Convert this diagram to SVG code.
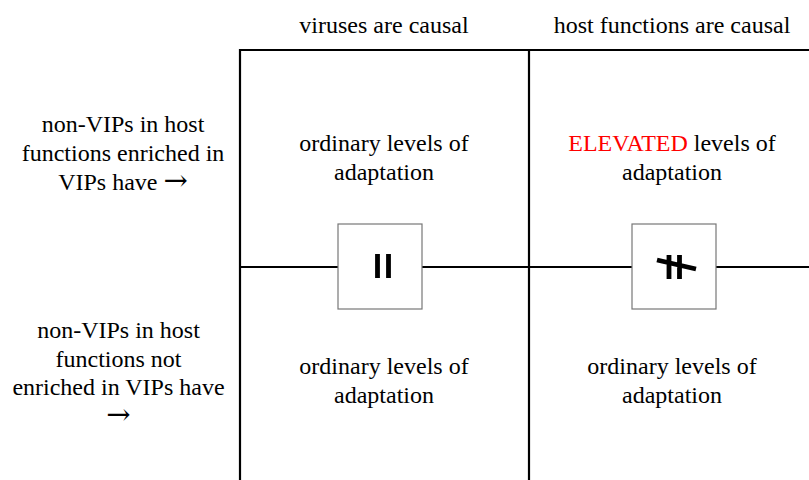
<svg xmlns="http://www.w3.org/2000/svg" width="809" height="480" viewBox="0 0 809 480">
<style>
text{font-family:"Liberation Serif","Times New Roman",serif;font-size:24px;fill:#000;text-anchor:middle}
.arr{font-family:"DejaVu Serif",serif;font-size:29px}
.grid{stroke:#000;stroke-width:2.2;fill:none}
.box{fill:#fff;stroke:#777;stroke-width:1.2}
.sym{stroke:#000;stroke-width:4.8;fill:none}
.red{fill:#ff0000}
</style>
<rect width="809" height="480" fill="#fff"/>
<g id="connectors">
<path class="grid" d="M240,480 V50 H809 M529,50 V480 M240,267 H809"/>
</g>
<g id="header-viruses"><text x="384" y="33">viruses are causal</text></g>
<g id="header-host"><text x="672" y="33">host functions are causal</text></g>
<g id="row1-label"><text x="123" y="132">non-VIPs in host</text><text x="123" y="161">functions enriched in</text><text x="123" y="190">VIPs have <tspan class="arr">→</tspan></text></g>
<g id="row2-label"><text x="118.5" y="338">non-VIPs in host</text><text x="118.5" y="367">functions not</text><text x="118.5" y="395">enriched in VIPs have</text><text x="118.5" y="424" class="arr">→</text></g>
<g id="cell-tl"><text x="384" y="151">ordinary levels of</text><text x="384" y="180">adaptation</text></g>
<g id="cell-tr"><text x="672" y="151"><tspan class="red">ELEVATED</tspan> levels of</text><text x="672" y="180">adaptation</text></g>
<g id="cell-bl"><text x="384" y="374">ordinary levels of</text><text x="384" y="403">adaptation</text></g>
<g id="cell-br"><text x="672" y="374">ordinary levels of</text><text x="672" y="403">adaptation</text></g>
<g id="equal-box"><rect class="box" x="338" y="224" width="84" height="85"/><path class="sym" d="M377.5,254 V278 M388.5,254 V278"/></g>
<g id="notequal-box"><rect class="box" x="632" y="224" width="84" height="85"/><path class="sym" d="M669,255 V279 M679.5,255 V279 M657,260 L696,269"/></g>
</svg>
